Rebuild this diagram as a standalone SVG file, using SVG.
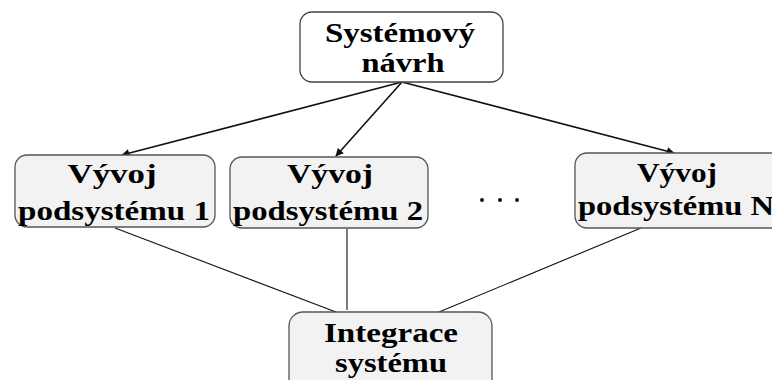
<svg xmlns="http://www.w3.org/2000/svg" width="772" height="380" viewBox="0 0 772 380">
<defs>
<style>
.box{fill:#f2f2f2;stroke:#555;stroke-width:1.3}
.top{fill:#fff;stroke:#444;stroke-width:1.3}
.t{font-family:"Liberation Serif","Times New Roman",serif;font-weight:bold;font-size:27px;fill:#000}
.arr{stroke:#111;stroke-width:1.6;fill:none;marker-end:url(#ah)}
.ln{stroke:#111;stroke-width:1.1;fill:none}
</style>
<marker id="ah" viewBox="0 0 10 10" refX="9" refY="5" markerWidth="9" markerHeight="8" markerUnits="userSpaceOnUse" orient="auto">
<path d="M0,0 L10,5 L0,10 z" fill="#111"/>
</marker>
</defs>
<rect width="772" height="380" fill="#fff"/>
<g id="connectors">
<line class="arr" x1="402" y1="82" x2="122" y2="155"/>
<line class="arr" x1="402" y1="82" x2="336" y2="156"/>
<line class="arr" x1="402" y1="82" x2="674" y2="153"/>
<line class="ln" x1="115" y1="228" x2="336" y2="312"/>
<line class="ln" x1="347" y1="229" x2="347" y2="310"/>
<line class="ln" x1="641" y1="228" x2="439" y2="312"/>
</g>
<g id="n-system-design">
<rect class="top" x="300" y="12" width="203" height="70" rx="12"/>
<text class="t" x="400" y="42" text-anchor="middle" textLength="150" lengthAdjust="spacingAndGlyphs">Systémový</text>
<text class="t" x="403" y="72" text-anchor="middle" textLength="83" lengthAdjust="spacingAndGlyphs">návrh</text>
</g>
<g id="n-sub1">
<rect class="box" x="15" y="155" width="200" height="72" rx="12"/>
<text class="t" x="112" y="183" text-anchor="middle" textLength="89" lengthAdjust="spacingAndGlyphs">Vývoj</text>
<text class="t" x="114" y="220" text-anchor="middle" textLength="192" lengthAdjust="spacingAndGlyphs">podsystému 1</text>
</g>
<g id="n-sub2">
<rect class="box" x="230" y="157" width="198" height="71" rx="12"/>
<text class="t" x="330" y="183" text-anchor="middle" textLength="86" lengthAdjust="spacingAndGlyphs">Vývoj</text>
<text class="t" x="328" y="220" text-anchor="middle" textLength="190" lengthAdjust="spacingAndGlyphs">podsystému 2</text>
</g>
<g id="n-dots">
<circle cx="482" cy="200" r="2" fill="#111"/>
<circle cx="500" cy="200" r="2" fill="#111"/>
<circle cx="517" cy="200" r="2" fill="#111"/>
</g>
<g id="n-subN">
<rect class="box" x="575" y="153" width="215" height="75" rx="12"/>
<text class="t" x="677" y="182" text-anchor="middle" textLength="80" lengthAdjust="spacingAndGlyphs">Vývoj</text>
<text class="t" x="578" y="215" textLength="196" lengthAdjust="spacingAndGlyphs">podsystému N</text>
</g>
<g id="n-integration">
<rect class="box" x="289" y="312" width="203" height="90" rx="14"/>
<text class="t" x="391" y="342" text-anchor="middle" textLength="134" lengthAdjust="spacingAndGlyphs">Integrace</text>
<text class="t" x="391" y="372" text-anchor="middle" textLength="112" lengthAdjust="spacingAndGlyphs">systému</text>
</g>
</svg>
